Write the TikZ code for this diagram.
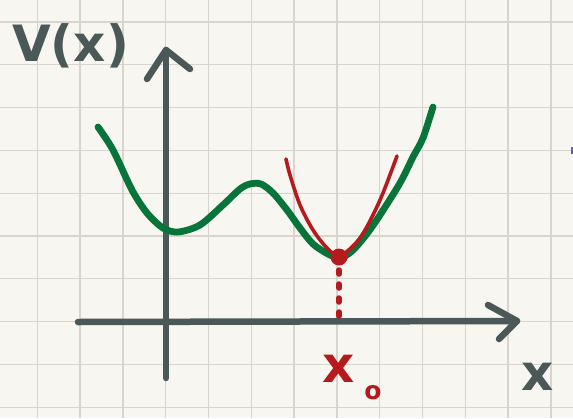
\documentclass[tikz,border=0pt]{standalone}
\usepackage{fontspec}
\setmainfont{DejaVu Sans}
\definecolor{paper}{HTML}{F8F6F0}
\definecolor{gridc}{HTML}{D8D4CE}
\definecolor{axisc}{HTML}{4A5858}
\definecolor{greenc}{HTML}{07743A}
\definecolor{redc}{HTML}{B51A1C}
\definecolor{purplec}{HTML}{6A5ACD}
\tikzset{
  gridline/.style={gridc, line width=1.3pt},
  axisline/.style={axisc, line width=6.5pt, line cap=round, line join=round},
  greencurve/.style={greenc, line width=6.8pt, line cap=round, line join=round},
  redcurve/.style={redc, line width=3.6pt, line cap=round, line join=round},
  hand/.style={inner sep=0pt, font=\fontsize{50}{50}\selectfont\bfseries},
}
\begin{document}
\begin{tikzpicture}[x=1pt,y=-1pt]
\fill[paper] (0,0) rectangle (573,418);
\useasboundingbox (0,0) rectangle (573,418);
% grid
\foreach \k in {0,...,12} {
  \draw[gridline] ({37.3+42.8*\k},0) -- ({37.3+42.8*\k},418);
}
\foreach \k in {0,...,9} {
  \draw[gridline] (0,{22+42.8*\k}) -- (573,{22+42.8*\k});
}
% stray mark at the right edge
\fill[purplec] (571,147) rectangle (573,154);
% axes
\coordinate (yb) at (166,378);
\coordinate (yt) at (166,50);
\coordinate (xl) at (78,322);
\coordinate (xr) at (517,321);
\draw[axisline] (yb) -- (yt);
\draw[axisline] (147,79) -- (yt) -- (190,69);
\draw[axisline] (xl) -- (xr);
\draw[axisline] (488,305) -- (xr) -- (499,339);
% potential
\draw[greencurve] plot[smooth, tension=0.5] coordinates {
  (98,127) (113,150) (132,190) (147,213) (163,228) (178,232) (200,225)
  (223,205) (240,189) (250,184) (261,184) (273,193) (287,210) (300,228) (313,244)
  (328,254) (340,258) (352,251) (366,235) (380,215) (400,183) (413,157) (423,138) (433,107)};
% harmonic approximation
\draw[redcurve] plot[smooth, tension=0.55] coordinates {
  (286,159) (290,175) (300,205) (313,230) (327,248) (339,256) (352,247)
  (362,235) (372,217) (383,193) (397,156)};
% minimum
\node[circle, fill=redc, minimum size=17pt, inner sep=0pt] (min) at (339,257) {};
\coordinate (foot) at (339,318);
\draw[redc, line width=5.5pt, line cap=round, dash pattern=on 4pt off 10pt] (339,270) -- (foot);
% labels
\node[hand, text=axisc, anchor=base west] (vlab) at (12,61) {V(x)};
\node[hand, text=axisc, anchor=base west] (xlab) at (521,390) {x};
\node[hand, text=redc, anchor=base west] (x0lab) at (322,382) {x};
\node[inner sep=0pt, text=redc, font=\fontsize{25}{25}\selectfont\bfseries, anchor=base] (sub) at (373,399) {o};
\end{tikzpicture}
\end{document}
